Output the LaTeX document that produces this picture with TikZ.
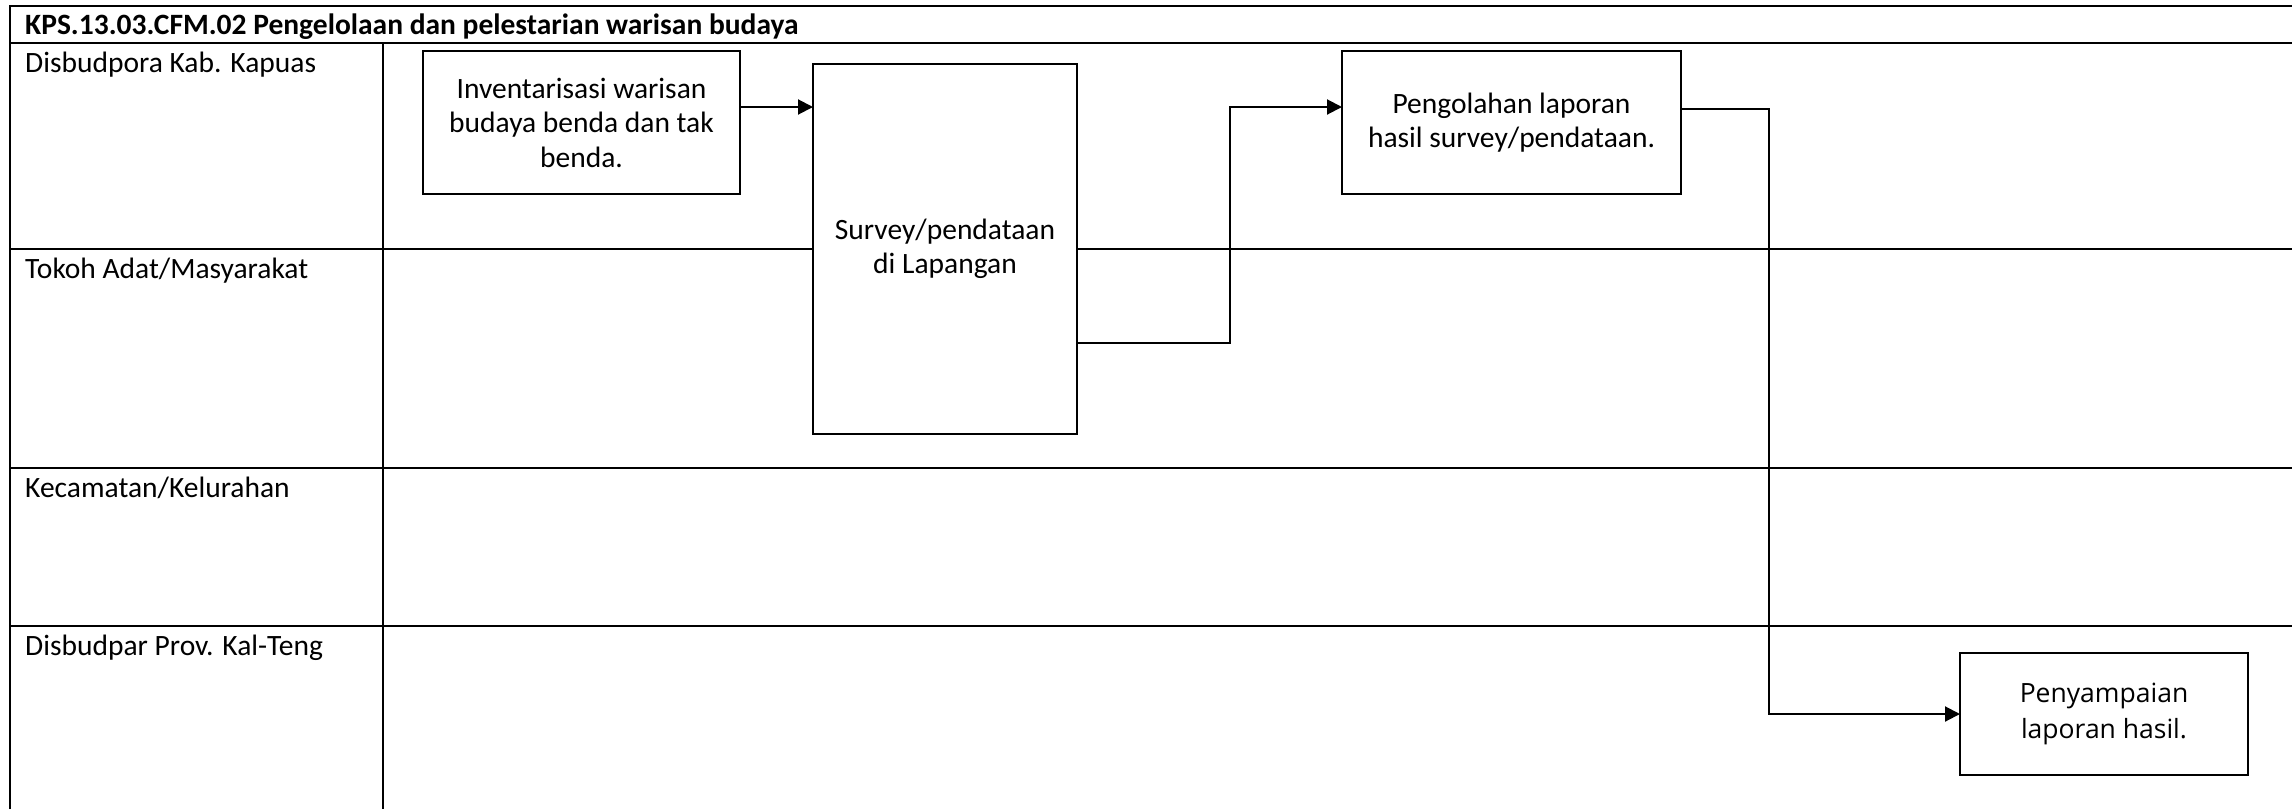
\documentclass[tikz,border=0pt]{standalone}
\usepackage{fontspec}
\setmainfont{Carlito}
\newfontfamily\osans{Open Sans}
\usetikzlibrary{arrows.meta,calc}
\begin{document}
\begin{tikzpicture}[x=1pt,y=-1pt,
  frame/.style={line width=2.4pt},
  procbox/.style={draw,line width=2pt,fill=white,inner sep=0pt,outer sep=0pt,align=center,
    font=\fontsize{29.5}{34.5}\selectfont},
  lanelabel/.style={anchor=base west,inner sep=0pt,font=\fontsize{29.5}{34}\selectfont},
  flow/.style={line width=2pt,-{Triangle[length=15pt,width=15pt]}},
  plain/.style={line width=2pt}]
\useasboundingbox (0,0) rectangle (2292,809);
% frame and lanes
\draw[frame] (10,809) -- (10,6) -- (2292,6);
\draw[frame] (10,43) -- (2292,43);
\draw[frame] (383,43) -- (383,809);
\draw[frame] (10,249) -- (2292,249);
\draw[frame] (10,468) -- (2292,468);
\draw[frame] (10,626) -- (2292,626);
% texts
\node[lanelabel,font=\fontsize{29.5}{34}\selectfont\bfseries] (title) at (25,34) {KPS.13.03.CFM.02 Pengelolaan dan pelestarian warisan budaya};
\node[lanelabel] (l1) at (25,72) {Disbudpora Kab. Kapuas};
\node[lanelabel] (l2) at (25,278) {Tokoh Adat/Masyarakat};
\node[lanelabel] (l3) at (25,497) {Kecamatan/Kelurahan};
\node[lanelabel] (l4) at (25,655) {Disbudpar Prov. Kal-Teng};
% boxes
\node[procbox,minimum width=317pt,minimum height=143pt] (inv) at (581.5,122.5)
  {Inventarisasi warisan\\budaya benda dan tak\\benda.};
\node[procbox,minimum width=264pt,minimum height=370pt] (survey) at (945,249)
  {Survey/pendataan\\di Lapangan};
\node[procbox,minimum width=339pt,minimum height=143pt] (peng) at (1511.5,122.5)
  {Pengolahan laporan\\hasil survey/pendataan.};
\node[procbox,minimum width=288pt,minimum height=122pt,font=\osans\fontsize{26.5}{36}\selectfont] (peny) at (2104,714)
  {Penyampaian\\laporan hasil.};
% connectors
\coordinate (a1) at (0,107);
\draw[flow] (inv.east |- a1) -- (survey.west |- a1);
\coordinate (b1) at (1230,343);
\coordinate (b1t) at (1230,107);
\draw[flow] (survey.east |- b1) -- (b1) -- (b1t) -- (peng.west |- b1t);
\coordinate (b2) at (1769,109);
\coordinate (b3) at (1769,714);
\draw[flow] (peng.east |- b2) -- (b2) -- (b3) -- (peny.west);
\end{tikzpicture}
\end{document}
